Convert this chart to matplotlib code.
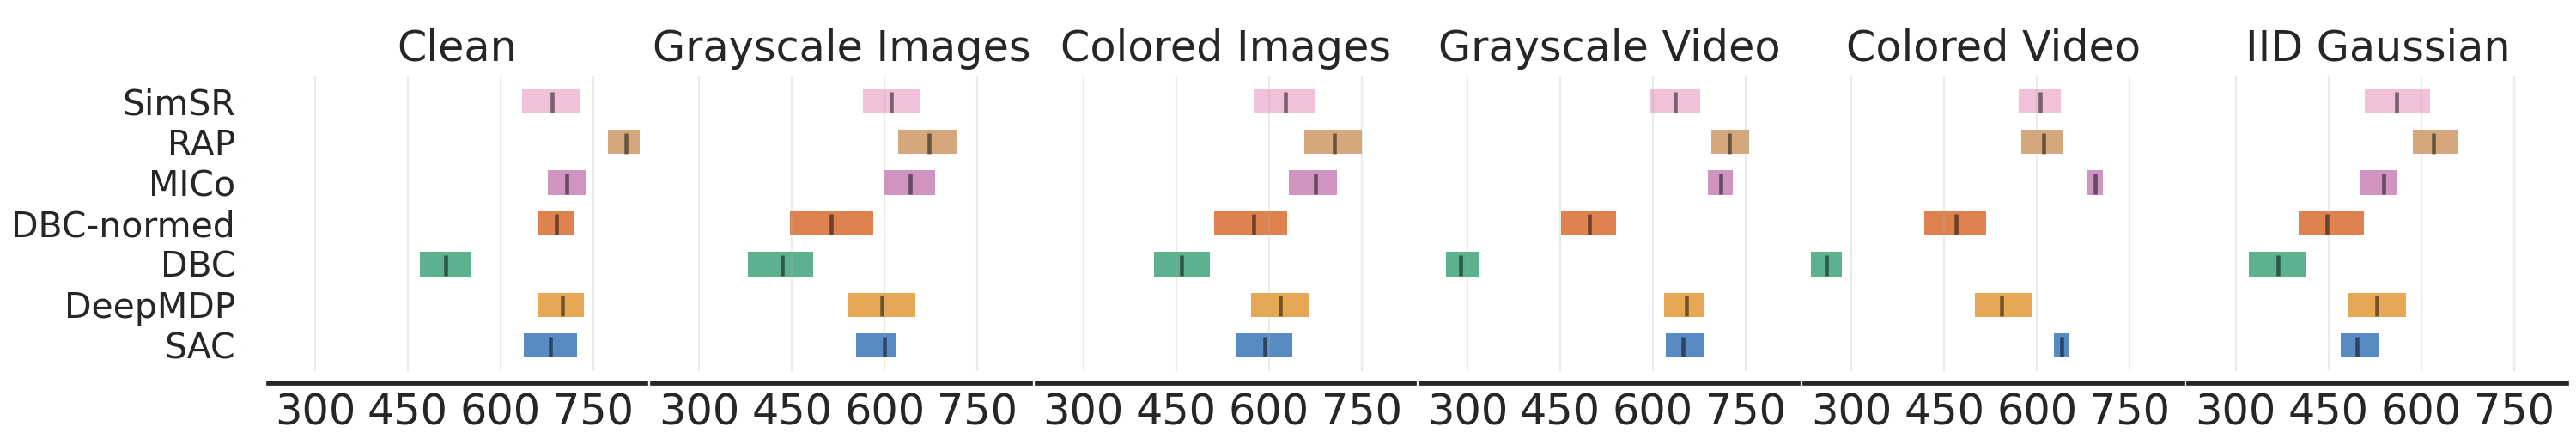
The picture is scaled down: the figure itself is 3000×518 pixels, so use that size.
import matplotlib
matplotlib.use("Agg")
import matplotlib.pyplot as plt

# algorithms listed bottom -> top
algorithms = ['SAC', 'DeepMDP', 'DBC', 'DBC-normed', 'MICo', 'RAP', 'SimSR']
tasks = ['Clean', 'Grayscale Images', 'Colored Images',
         'Grayscale Video', 'Colored Video', 'IID Gaussian']

# interval estimates (lower, upper) and point estimates, same order as algorithms
clean_lo = [638, 660, 469, 660, 677, 773, 634]
clean_hi = [724, 734, 552, 718, 737, 825, 728]
clean_med = [680, 700, 511, 690, 707, 803, 683]

gray_img_lo = [554, 541, 379, 447, 599, 622, 565]
gray_img_hi = [617, 650, 484, 582, 681, 718, 656]
gray_img_med = [599, 596, 435, 513, 641, 672, 610]

color_img_lo = [548, 571, 414, 512, 633, 657, 575]
color_img_hi = [638, 664, 504, 630, 710, 750, 676]
color_img_med = [593, 618, 459, 575, 675, 706, 627]

gray_vid_lo = [621, 618, 265, 452, 689, 694, 596]
gray_vid_hi = [683, 684, 320, 540, 729, 755, 677]
gray_vid_med = [649, 654, 289, 497, 709, 724, 636]

color_vid_lo = [627, 500, 235, 418, 680, 575, 570]
color_vid_hi = [653, 593, 285, 518, 707, 642, 639]
color_vid_med = [640, 542, 259, 469, 694, 610, 605]

iid_lo = [470, 482, 322, 402, 500, 586, 509]
iid_hi = [531, 576, 414, 508, 561, 660, 615]
iid_med = [497, 528, 368, 448, 540, 620, 560]

lows = [clean_lo, gray_img_lo, color_img_lo, gray_vid_lo, color_vid_lo, iid_lo]
highs = [clean_hi, gray_img_hi, color_img_hi, gray_vid_hi, color_vid_hi, iid_hi]
meds = [clean_med, gray_img_med, color_img_med, gray_vid_med, color_vid_med, iid_med]

colors = ['#2064b0', '#de8b1c', '#26986a', '#d35816', '#bf72ab', '#c88a52', '#ebaccc']
xticks = [300, 450, 600, 750]

text_color = '#262626'
plt.rcParams['text.color'] = text_color
plt.rcParams['xtick.color'] = text_color
plt.rcParams['ytick.color'] = text_color

row_height = 0.6
fig, axes = plt.subplots(1, len(tasks), figsize=(3000 / 205, 518 / 205), dpi=205)
fig.subplots_adjust(left=0.1043, right=0.9963, top=0.830, bottom=0.166, wspace=0.018)

for idx, ax in enumerate(axes):
    for alg_idx, alg in enumerate(algorithms):
        lo, hi = lows[idx][alg_idx], highs[idx][alg_idx]
        ax.barh(y=alg_idx, width=hi - lo, height=row_height, left=lo,
                color=colors[alg_idx], alpha=0.75)
        ax.vlines(x=meds[idx][alg_idx],
                  ymin=alg_idx - 7.5 * row_height / 16,
                  ymax=alg_idx + 6 * row_height / 16,
                  color='k', alpha=0.5, linewidth=1.6)
    ax.set_title(tasks[idx], fontsize=17.3)
    # spines first: repositioning a spine resets that axis' ticks
    ax.spines['right'].set_visible(False)
    ax.spines['top'].set_visible(False)
    ax.spines['left'].set_visible(False)
    ax.spines['bottom'].set_linewidth(2)
    ax.spines['bottom'].set_color(text_color)
    ax.spines['left'].set_position(('outward', 10))
    ax.spines['bottom'].set_position(('outward', 5))

    ax.set_xlim(225, 835)
    ax.set_xticks(xticks)
    if idx == 0:
        ax.set_yticks(list(range(len(algorithms))))
        ax.set_yticklabels(algorithms)
    else:
        ax.set_yticks([])
    ax.tick_params(length=0.1, width=0.1)
    ax.tick_params(axis='x', labelsize=17.3)
    ax.tick_params(axis='y', labelsize=14.4)
    ax.grid(True, axis='x', alpha=0.25)

fig.savefig('out.png', dpi=205)
